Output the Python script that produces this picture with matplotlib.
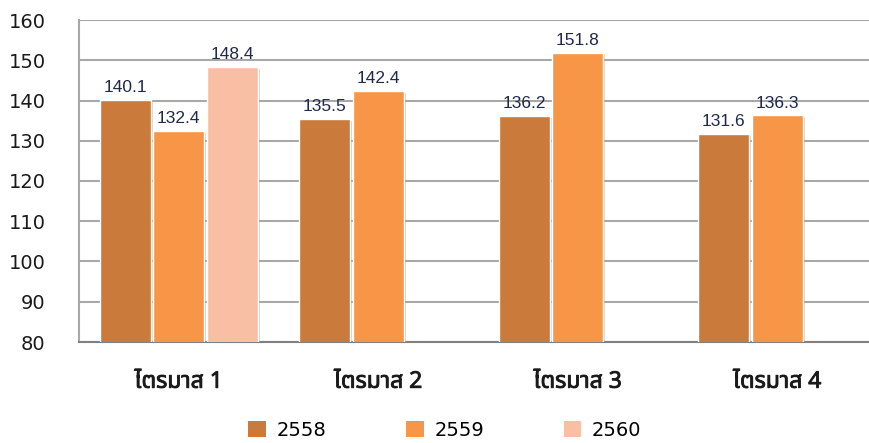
import matplotlib
matplotlib.use('Agg')
import matplotlib.pyplot as plt
from matplotlib import font_manager
from matplotlib.ft2font import FT2Font
from matplotlib.patches import Patch
import matplotlib.patheffects as pe
import numpy as np

categories = ['ไตรมาส 1', 'ไตรมาส 2', 'ไตรมาส 3', 'ไตรมาส 4']
years = ['2558', '2559', '2560']
v2558 = [140.1, 135.5, 136.2, 131.6]
v2559 = [132.4, 142.4, 151.8, 136.3]
v2560 = [148.4, None, None, None]
yticks = [80, 90, 100, 110, 120, 130, 140, 150, 160]

colors = ['#CA7A3A', '#F69646', '#F8BFA4']


def thai_family():
    found = []
    for f in font_manager.fontManager.ttflist:
        try:
            cm = FT2Font(f.fname).get_charmap()
            if 0x0E44 in cm and 0x0E15 in cm and 0x0E2A in cm:
                found.append(f.name)
        except Exception:
            pass
    pref = ['Tahoma', 'DejaVu Sans', 'Noto Sans Thai', 'Noto Sans Thai UI', 'Loma', 'Garuda', 'Sarabun']
    for p in pref:
        if p in found:
            return p
    return found[0] if found else None


tf = thai_family()
fam = [tf, 'DejaVu Sans'] if tf else ['DejaVu Sans']
plt.rcParams['font.family'] = ['DejaVu Sans']

fig = plt.figure(figsize=(8.69, 4.43), dpi=100)
ax = fig.add_axes([79 / 869, (443 - 342) / 443, 798 / 869, 322 / 443])

x = np.arange(len(categories))
slot = 0.268
width = 0.256
series = [v2558, v2559, v2560]
shadow = [pe.SimplePatchShadow(offset=(1.5, -1.5), shadow_rgbFace='#808080', alpha=0.35), pe.Normal()]
for i, (vals, col) in enumerate(zip(series, colors)):
    xs = [xi + (i - 1) * slot for xi, v in zip(x, vals) if v is not None]
    vs = [v for v in vals if v is not None]
    bars = ax.bar(xs, vs, width=width, color=col, edgecolor='white', linewidth=1.0, zorder=3)
    for b in bars:
        b.set_path_effects(shadow)
    for b, v in zip(bars, vs):
        ax.annotate(f'{v:.1f}', (b.get_x() + b.get_width() / 2, v), xytext=(0, 3.5),
                    textcoords='offset points', ha='center', va='bottom',
                    fontsize=12.5, family=['Liberation Sans', 'DejaVu Sans'], color='#1E2A48', zorder=4)

ax.set_xlim(-0.5, 3.5)
ax.set_ylim(80, 160)
ax.set_yticks(yticks)
ax.set_yticklabels([str(t) for t in yticks])
ax.yaxis.grid(True, color='#A8A8A8', linewidth=1.5, zorder=0)
ax.set_axisbelow(True)
ax.set_xticks(x)
ax.set_xticklabels(categories)
for lab in ax.get_xticklabels():
    lab.set_family(fam)
    lab.set_fontsize(16.5)
    lab.set_fontweight('bold')
    lab.set_color('#1a1a1a')
    lab.set_path_effects([pe.withStroke(linewidth=0.6, foreground='#1a1a1a')])
ax.tick_params(axis='y', length=0, pad=24, labelsize=14, labelcolor='#1a1a1a')
ax.tick_params(axis='x', length=0, pad=20)
for s in ['top', 'right']:
    ax.spines[s].set_visible(False)
ax.spines['left'].set_color('#A8A8A8')
ax.spines['left'].set_linewidth(1.5)
ax.spines['bottom'].set_color('#808080')
ax.spines['bottom'].set_linewidth(1.5)

handles = [Patch(facecolor=c, edgecolor='none') for c in colors]
fig.legend(handles, years, loc='center', bbox_to_anchor=(445 / 869, 13 / 443), ncol=3,
           frameon=False, fontsize=14, handlelength=0.9, handleheight=0.9,
           handletextpad=0.55, columnspacing=4.1)

fig.savefig('out.png', dpi=100, facecolor='white')
